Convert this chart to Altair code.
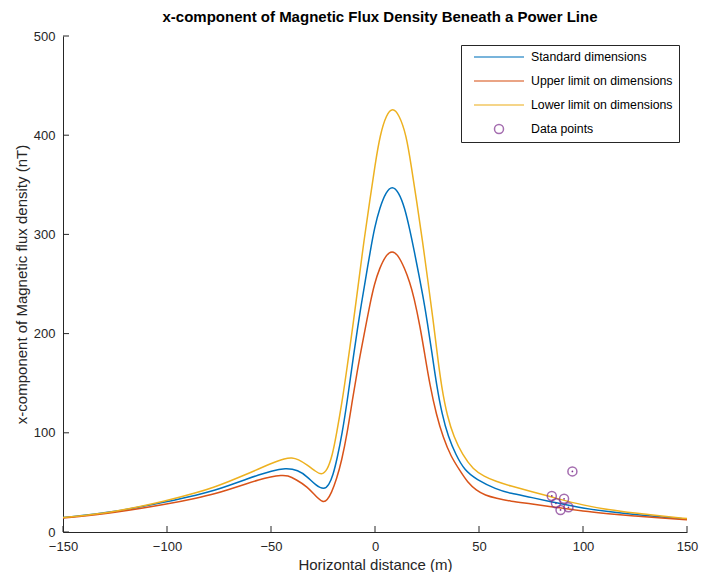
import altair as alt
import pandas as pd

series_names = ["Standard dimensions", "Upper limit on dimensions",
                "Lower limit on dimensions", "Data points"]
series_colors = ["#0072BD", "#D95319", "#EDB120", "#7E2F8E"]

std_x = [-150, -125, -100, -85, -77, -70.7, -62, -56, -50, -43, -37, -32.5, -28.5, -24.5,
         -22.2, -20.2, -18.2, -15.8, -13.2, -11, -8.2, -6.7, -4.7, -2.2, -0.2, 2.3, 5.3, 8.3,
         11.3, 14.3, 16.8, 18.8, 21.3, 23.3, 25.2, 27.3, 29.6, 32.3, 35.2, 38.8, 43.1, 48.7,
         58.3, 65, 75, 88, 100, 112, 125, 138, 150]
std_y = [14.5, 20, 30.5, 37.5, 42, 46.5, 53, 57.5, 61.5, 64.5, 62.5, 55.7, 47, 42.5,
         47, 57, 74, 99, 134, 168, 208, 228, 253, 284, 307, 327, 343, 349,
         343, 327, 304, 284, 257, 235, 211, 182, 148, 118, 96, 78, 62, 53,
         43, 39, 35, 29, 24, 20.5, 17.5, 15, 13]

upper_x = [-150, -125, -100, -85, -77, -70.7, -62, -56, -50, -45, -42, -38, -32.5, -28.5, -25,
           -23, -21, -18.5, -16, -13.4, -10.8, -8.3, -6.8, -4.8, -2.3, -0.3, 2.2, 5.2,
           8.2, 11.2, 14.2, 16.7, 18.7, 21.7, 24, 26.4, 29.5, 32.8, 36.5, 40.8, 44.5, 48.7, 53,
           58.3, 65, 75, 88, 100, 112, 125, 138, 150]
upper_y = [14, 19.5, 28, 34.5, 38.5, 42.5, 48.5, 52.5, 55.7, 57.2, 57, 53, 45.6, 36, 29.5,
           32, 39, 53, 72, 99, 134, 165, 182, 204, 231, 250, 266, 279,
           284, 279, 266, 252, 237, 207, 178, 148, 118, 95, 76, 62, 50, 42, 37,
           34, 31, 28.5, 24.5, 21, 18.5, 16, 14, 12.3]

lower_x = [-150, -125, -100, -85, -77, -70.7, -62, -56, -50, -43, -40, -37, -32.5, -28.5, -25.8,
           -23, -20.5, -18.5, -15.9, -13.4, -10.3, -8, -5.3, -2.5, 0, 2.5, 5.5, 8.5,
           11.5, 15, 17.5, 20, 22.8, 25.5, 28, 30, 32, 34.8, 37.9, 42, 47.2, 52.5, 58,
           65, 75, 88, 100, 112, 125, 138, 150]
lower_y = [14.5, 20, 31.5, 40, 45.5, 50.5, 58, 63.5, 69, 74.5, 75, 73.5, 67.5, 61, 57.4,
           62, 77, 99, 130, 166, 213, 250, 294, 334, 370, 401, 421, 428,
           421, 401, 368, 334, 294, 252, 213, 178, 146, 116, 96, 78, 63, 56, 51,
           46.5, 41, 33.5, 27, 22.5, 19, 16, 13.5]

pts_x = [94.9, 85.0, 90.9, 87.0, 93.0, 89.2]
pts_y = [61.1, 36.3, 33.5, 28.9, 24.9, 22.2]

x_ticks = [-150, -100, -50, 0, 50, 100, 150]
y_ticks = [0, 100, 200, 300, 400, 500]

FONT = "Liberation Sans"
INK = "#262626"
PLOT_W, PLOT_H = 624, 496

rows = []
for name, xs, ys in [(series_names[0], std_x, std_y),
                     (series_names[1], upper_x, upper_y),
                     (series_names[2], lower_x, lower_y)]:
    for a, b in zip(xs, ys):
        rows.append({"x": a, "y": b, "series": name})
df_lines = pd.DataFrame(rows)
df_pts = pd.DataFrame({"x": pts_x, "y": pts_y, "series": series_names[3]})
df_xt = pd.DataFrame({"x": x_ticks})
df_yt = pd.DataFrame({"y": y_ticks})

circle_path = "M -0.18 0 A 0.18 0.18 0 1 0 0.18 0 A 0.18 0.18 0 1 0 -0.18 0 Z"

legend = alt.Legend(title=None, orient="none", legendX=398, legendY=9, padding=6,
                    strokeColor=INK, fillColor="white", symbolSize=2500,
                    symbolStrokeWidth=1.5, symbolOffset=6, clipHeight=12, rowPadding=11,
                    labelFont=FONT, labelFontSize=12.3, labelColor="#000000",
                    labelOffset=6, labelExpr="datum.label + '" + "\u00a0" * 6 + "'")

X = alt.X("x:Q", scale=alt.Scale(domain=[-150, 150], nice=False, zero=False),
          axis=alt.Axis(title="Horizontal distance (m)", values=x_ticks, format="d",
                        labelFlush=False))
Y = alt.Y("y:Q", scale=alt.Scale(domain=[0, 500], nice=False),
          axis=alt.Axis(title="x-component of Magnetic flux density (nT)", values=y_ticks,
                        format="d", labelFlush=False))

color = alt.Color("series:N", scale=alt.Scale(domain=series_names, range=series_colors),
                  legend=legend)
shape = alt.Shape("series:N", scale=alt.Scale(domain=series_names,
                  range=["stroke", "stroke", "stroke", circle_path]), legend=legend)

lines = alt.Chart(df_lines).mark_line(interpolate="basis", strokeWidth=1.5).encode(
    x=X, y=Y, color=color)

pts = alt.Chart(df_pts).mark_point(filled=False, size=2500, strokeWidth=1.5).encode(
    x=X, y=Y, color=color, shape=shape)

dots = alt.Chart(df_pts).mark_circle(size=3, opacity=1).encode(
    x=X, y=Y, color=alt.value("#7E2F8E"))

xt = alt.Chart(df_xt).mark_rule(color=INK, strokeWidth=1).encode(
    x=X, y=alt.value(PLOT_H), y2=alt.value(PLOT_H - 6))
yt = alt.Chart(df_yt).mark_rule(color=INK, strokeWidth=1).encode(
    y=Y, x=alt.value(0), x2=alt.value(6))

chart = alt.layer(lines, pts, dots, xt, yt).properties(
    width=PLOT_W, height=PLOT_H,
    title=alt.TitleParams("x-component of Magnetic Flux Density Beneath a Power Line",
                          font=FONT, fontSize=15, fontWeight="bold", color="#000000",
                          offset=5, anchor="middle", dx=5),
    autosize=alt.AutoSizeParams(type="none"),
    padding={"left": 55, "top": 28, "right": 12, "bottom": 40},
).configure_view(stroke=None).configure_axis(
    ticks=False, tickSize=0, grid=False, domainColor=INK, domainWidth=1,
    labelFont=FONT, labelFontSize=13, labelColor=INK, labelPadding=8,
    titleFont=FONT, titleFontSize=15, titleFontWeight="normal", titleColor=INK,
    titlePadding=4
)

chart.save("out.html", embed_options={"renderer": "svg", "actions": False})
